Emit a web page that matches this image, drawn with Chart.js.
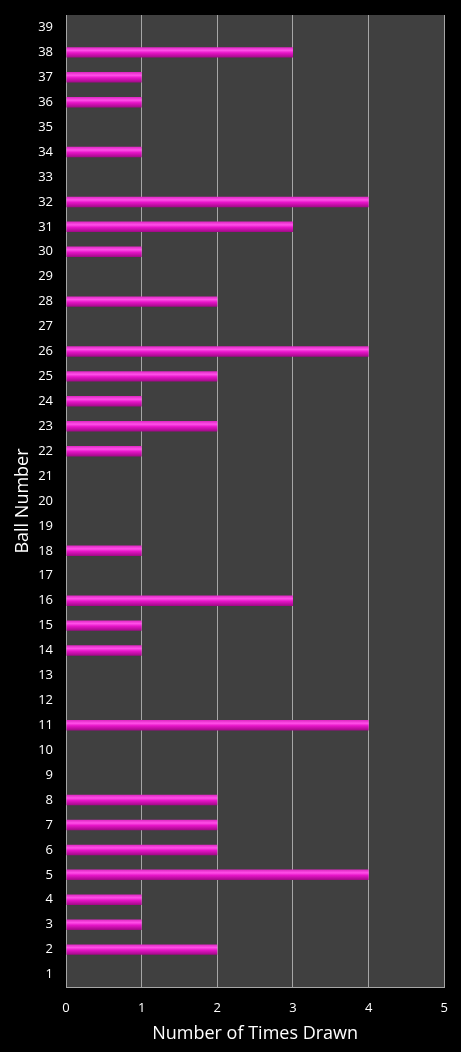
<!DOCTYPE html>
<html>
<head>
<meta charset="utf-8">
<script src="https://cdn.jsdelivr.net/npm/chart.js@4/dist/chart.umd.min.js"></script>
<style>
  html, body { margin: 0; padding: 0; background: #000; }
  #wrap { width: 461px; height: 1052px; position: relative; }
</style>
</head>
<body>
<div id="wrap"><canvas id="chart"></canvas></div>
<script>
const ballNumbers = Array.from({length: 39}, (_, i) => String(i + 1));
const timesDrawn = [0, 2, 1, 1, 4, 2, 2, 2, 0, 0,
                    4, 0, 0, 1, 1, 3, 0, 1, 0, 0,
                    0, 1, 2, 1, 2, 4, 0, 2, 0, 1,
                    3, 4, 0, 1, 0, 1, 1, 3, 0];
const xTicks = [0, 1, 2, 3, 4, 5];

const FONT = "'Open Sans', 'Noto Sans', sans-serif";

// dark plot area behind the bars
const plotBg = {
  id: 'plotBg',
  beforeDraw(chart) {
    const {ctx, chartArea: a} = chart;
    ctx.save();
    ctx.fillStyle = '#404040';
    ctx.fillRect(a.left, a.top, a.right - a.left, a.bottom - a.top);
    ctx.restore();
  }
};

// 3d-ish tube look, gradient across the bar thickness
function barFill(context) {
  const chart = context.chart;
  if (!chart.chartArea) return '#e020c0';
  const y = chart.scales.y.getPixelForValue(context.dataIndex);
  const h = 5;
  const g = chart.ctx.createLinearGradient(0, y - h, 0, y + h);
  g.addColorStop(0, '#e028c4');
  g.addColorStop(0.3, '#ff50e8');
  g.addColorStop(0.55, '#e614c8');
  g.addColorStop(1, '#a20a88');
  return g;
}

new Chart(document.getElementById('chart'), {
  type: 'bar',
  data: {
    labels: ballNumbers,
    datasets: [{
      data: timesDrawn,
      backgroundColor: barFill,
      borderWidth: 0,
      barPercentage: 0.42,
      categoryPercentage: 1
    }]
  },
  options: {
    indexAxis: 'y',
    responsive: true,
    maintainAspectRatio: false,
    animation: false,
    layout: { padding: { top: 15, right: 15, bottom: 0, left: 0 } },
    plugins: { legend: { display: false }, tooltip: { enabled: false } },
    scales: {
      x: {
        min: 0, max: 5,
        afterBuildTicks(axis) { axis.ticks = xTicks.map(v => ({value: v})); },
        afterFit(axis) { axis.height = 65; },
        grid: { color: '#a6a6a6', lineWidth: 1, drawTicks: false },
        border: { color: '#a6a6a6' },
        ticks: { color: '#fff', font: { family: FONT, size: 13 }, padding: 13 },
        title: { display: true, text: 'Number of Times Drawn', color: '#fff',
                 font: { family: FONT, size: 18 }, padding: { top: 0, bottom: 7 } }
      },
      y: {
        reverse: true,
        afterFit(axis) {
          axis.width = 66;
          axis.paddingTop = 0;
          axis.paddingBottom = 0;
        },
        grid: { display: false, drawTicks: false },
        border: { display: false },
        ticks: { color: '#fff', font: { family: FONT, size: 13 }, padding: 13, autoSkip: false },
        title: { display: true, text: 'Ball Number', color: '#fff',
                 font: { family: FONT, size: 18 }, padding: { top: 12, bottom: 0 } }
      }
    }
  },
  plugins: [plotBg]
});
</script>
</body>
</html>
